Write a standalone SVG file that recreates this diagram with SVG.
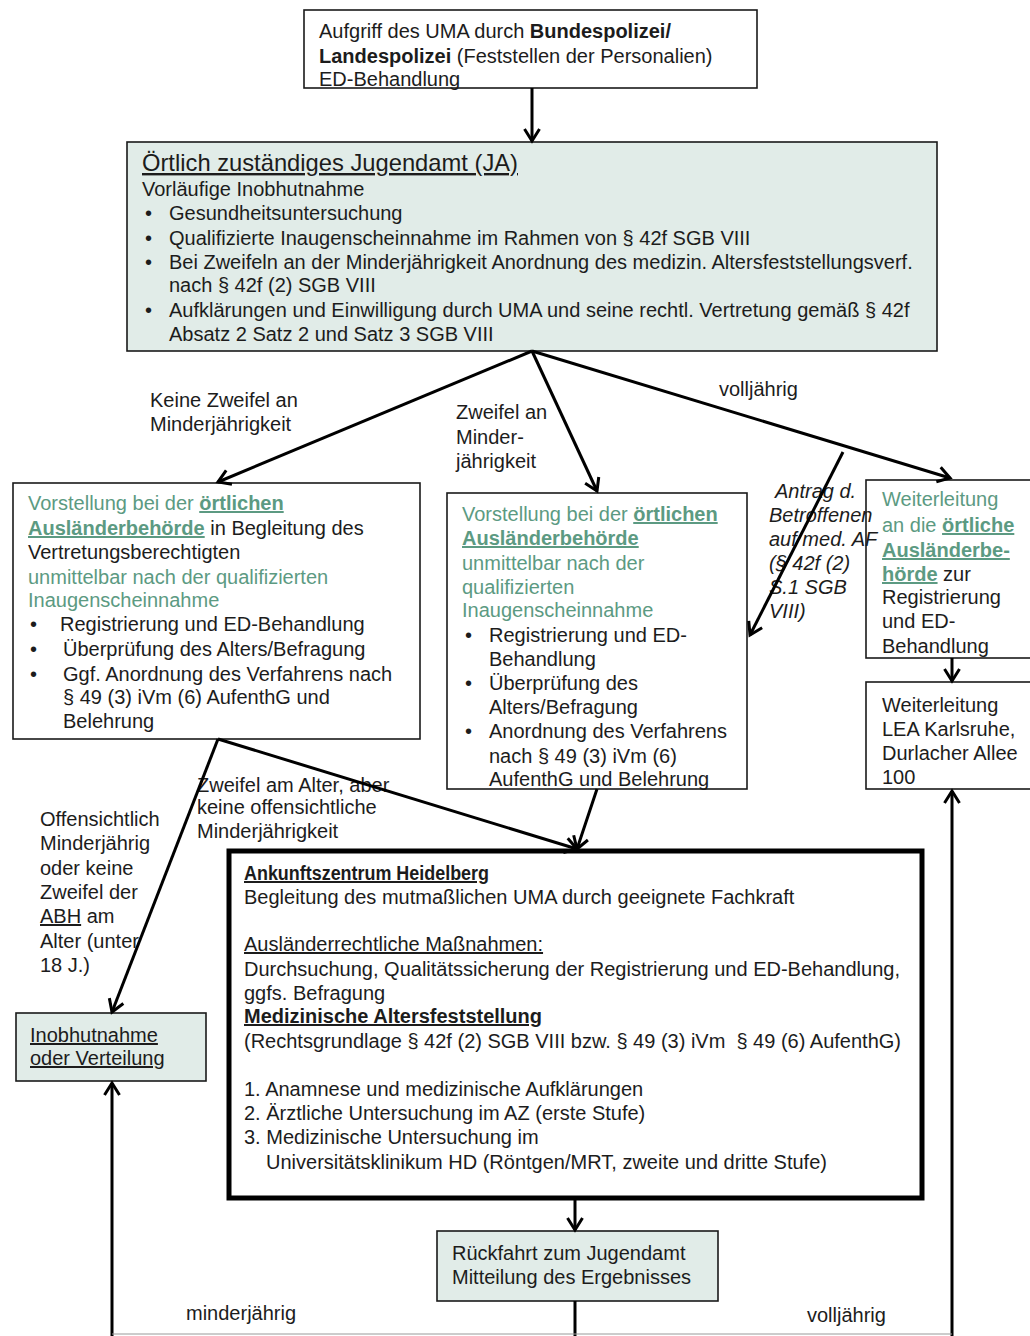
<svg xmlns="http://www.w3.org/2000/svg" width="1030" height="1336" viewBox="0 0 1030 1336">
<style>
text{font-family:"Liberation Sans",Arial,sans-serif;font-size:20px;fill:#1c1c1c}
.b{font-weight:bold}
.u{text-decoration:underline}
.g{fill:#5c9a82}
.gu{fill:#5c9a82;font-weight:bold;text-decoration:underline}
.i{font-style:italic}
.box{fill:#fff;stroke:#1a1a1a;stroke-width:1.6}
.fill{fill:#e1ece8;stroke:#1a1a1a;stroke-width:1.6}
.thick{fill:#fff;stroke:#000;stroke-width:5}
.c{fill:none;stroke:#000;stroke-width:3}
.thin{fill:none;stroke:#999;stroke-width:1}
</style>
<defs>
<marker id="ah" markerWidth="20" markerHeight="20" refX="15" refY="10" orient="auto" markerUnits="userSpaceOnUse">
<path d="M3,2.5 L15,10 L3,17.5" fill="none" stroke="#000" stroke-width="3"/>
</marker>
</defs>

<g id="n-aufgriff">
<rect class="box" x="304" y="10" width="453" height="78"/>
<text x="319" y="38">Aufgriff des UMA durch <tspan class="b">Bundespolizei/</tspan></text>
<text x="319" y="63"><tspan class="b">Landespolizei</tspan> (Feststellen der Personalien)</text>
<text x="319" y="86">ED-Behandlung</text>
</g>

<g id="n-jugendamt">
<rect class="fill" x="127" y="142" width="810" height="209"/>
<text x="142" y="171" class="u" style="font-size:24px" textLength="376" lengthAdjust="spacingAndGlyphs">Örtlich zuständiges Jugendamt (JA)</text>
<text x="142" y="196">Vorläufige Inobhutnahme</text>
<text x="145" y="220">•</text><text x="169" y="220">Gesundheitsuntersuchung</text>
<text x="145" y="245">•</text><text x="169" y="245">Qualifizierte Inaugenscheinnahme im Rahmen von § 42f SGB VIII</text>
<text x="145" y="269">•</text><text x="169" y="269">Bei Zweifeln an der Minderjährigkeit Anordnung des medizin. Altersfeststellungsverf.</text>
<text x="169" y="292">nach § 42f (2) SGB VIII</text>
<text x="145" y="317">•</text><text x="169" y="317">Aufklärungen und Einwilligung durch UMA und seine rechtl. Vertretung gemäß § 42f</text>
<text x="169" y="341">Absatz 2 Satz 2 und Satz 3 SGB VIII</text>
</g>

<g id="l-keine">
<text x="150" y="407">Keine Zweifel an</text>
<text x="150" y="431">Minderjährigkeit</text>
</g>
<g id="l-zweifel">
<text x="456" y="419">Zweifel an</text>
<text x="456" y="444">Minder-</text>
<text x="456" y="468">jährigkeit</text>
</g>
<g id="l-volljaehrig">
<text x="719" y="396">volljährig</text>
</g>

<g id="n-abh-links">
<rect class="box" x="13" y="483" width="407" height="256"/>
<text x="28" y="510"><tspan class="g">Vorstellung bei der </tspan><tspan class="gu">örtlichen</tspan></text>
<text x="28" y="535"><tspan class="gu">Ausländerbehörde</tspan> in Begleitung des</text>
<text x="28" y="559">Vertretungsberechtigten</text>
<text x="28" y="584" class="g">unmittelbar nach der qualifizierten</text>
<text x="28" y="607" class="g">Inaugenscheinnahme</text>
<text x="30" y="631">•</text><text x="60" y="631">Registrierung und ED-Behandlung</text>
<text x="30" y="656">•</text><text x="63" y="656">Überprüfung des Alters/Befragung</text>
<text x="30" y="681">•</text><text x="63" y="681">Ggf. Anordnung des Verfahrens nach</text>
<text x="63" y="704">§ 49 (3) iVm (6) AufenthG und</text>
<text x="63" y="728">Belehrung</text>
</g>

<g id="n-abh-mitte">
<rect class="box" x="447" y="493" width="300" height="296"/>
<text x="462" y="521"><tspan class="g">Vorstellung bei der </tspan><tspan class="gu">örtlichen</tspan></text>
<text x="462" y="545" class="gu">Ausländerbehörde</text>
<text x="462" y="570" class="g">unmittelbar nach der</text>
<text x="462" y="594" class="g">qualifizierten</text>
<text x="462" y="617" class="g">Inaugenscheinnahme</text>
<text x="465" y="642">•</text><text x="489" y="642">Registrierung und ED-</text>
<text x="489" y="666">Behandlung</text>
<text x="465" y="690">•</text><text x="489" y="690">Überprüfung des</text>
<text x="489" y="714">Alters/Befragung</text>
<text x="465" y="738">•</text><text x="489" y="738">Anordnung des Verfahrens</text>
<text x="489" y="763">nach § 49 (3) iVm (6)</text>
<text x="489" y="786">AufenthG und Belehrung</text>
</g>

<g id="n-weiterleitung-abh">
<rect class="box" x="866" y="480" width="170" height="178"/>
<text x="882" y="506" class="g">Weiterleitung</text>
<text x="882" y="532"><tspan class="g">an die </tspan><tspan class="gu">örtliche</tspan></text>
<text x="882" y="557" class="gu">Ausländerbe-</text>
<text x="882" y="581"><tspan class="gu">hörde</tspan> zur</text>
<text x="882" y="604">Registrierung</text>
<text x="882" y="628">und ED-</text>
<text x="882" y="653">Behandlung</text>
</g>

<g id="l-antrag">
<text x="775" y="498" class="i">Antrag d.</text>
<text x="769" y="522" class="i">Betroffenen</text>
<text x="769" y="546" class="i">auf med. AF</text>
<text x="769" y="570" class="i">(§ 42f (2)</text>
<text x="769" y="594" class="i">S.1 SGB</text>
<text x="769" y="618" class="i">VIII)</text>
</g>

<g id="n-lea">
<rect class="box" x="866" y="682" width="170" height="107"/>
<text x="882" y="712">Weiterleitung</text>
<text x="882" y="736">LEA Karlsruhe,</text>
<text x="882" y="760">Durlacher Allee</text>
<text x="882" y="784">100</text>
</g>

<g id="l-zweifel-alter">
<text x="197" y="792">Zweifel am Alter, aber</text>
<text x="197" y="814">keine offensichtliche</text>
<text x="197" y="838">Minderjährigkeit</text>
</g>

<g id="l-offensichtlich">
<text x="40" y="826">Offensichtlich</text>
<text x="40" y="850">Minderjährig</text>
<text x="40" y="875">oder keine</text>
<text x="40" y="899">Zweifel der</text>
<text x="40" y="923"><tspan class="u">ABH</tspan> am</text>
<text x="40" y="948">Alter (unter</text>
<text x="40" y="972">18 J.)</text>
</g>

<g id="n-inobhut">
<rect class="fill" x="16" y="1013" width="190" height="68"/>
<text x="30" y="1042" class="u">Inobhutnahme</text>
<text x="30" y="1065" class="u">oder Verteilung</text>
</g>

<g id="n-ankunftszentrum">
<rect class="thick" x="229" y="851" width="693" height="347"/>
<text x="244" y="880" class="b u" textLength="245" lengthAdjust="spacingAndGlyphs">Ankunftszentrum Heidelberg</text>
<text x="244" y="904">Begleitung des mutmaßlichen UMA durch geeignete Fachkraft</text>
<text x="244" y="951" class="u">Ausländerrechtliche Maßnahmen:</text>
<text x="244" y="976">Durchsuchung, Qualitätssicherung der Registrierung und ED-Behandlung,</text>
<text x="244" y="1000">ggfs. Befragung</text>
<text x="244" y="1023" class="b u" textLength="298" lengthAdjust="spacingAndGlyphs">Medizinische Altersfeststellung</text>
<text x="244" y="1048" xml:space="preserve">(Rechtsgrundlage § 42f (2) SGB VIII bzw. § 49 (3) iVm  § 49 (6) AufenthG)</text>
<text x="244" y="1096">1. Anamnese und medizinische Aufklärungen</text>
<text x="244" y="1120">2. Ärztliche Untersuchung im AZ (erste Stufe)</text>
<text x="244" y="1144">3. Medizinische Untersuchung im</text>
<text x="266" y="1169">Universitätsklinikum HD (Röntgen/MRT, zweite und dritte Stufe)</text>
</g>

<g id="n-rueckfahrt">
<rect class="fill" x="437" y="1231" width="281" height="70"/>
<text x="452" y="1260">Rückfahrt zum Jugendamt</text>
<text x="452" y="1284">Mitteilung des Ergebnisses</text>
</g>

<g id="l-minderjaehrig"><text x="186" y="1320">minderjährig</text></g>
<g id="l-volljaehrig2"><text x="807" y="1322">volljährig</text></g>

<g id="connectors">
<path class="c" d="M532,88 L532,141" marker-end="url(#ah)"/>
<path class="c" d="M532,351 L218,482" marker-end="url(#ah)"/>
<path class="c" d="M532,351 L597,491" marker-end="url(#ah)"/>
<path class="c" d="M532,351 L950,478" marker-end="url(#ah)"/>
<path class="c" d="M843,452 L750,635" marker-end="url(#ah)"/>
<path class="c" d="M952,658 L952,681" marker-end="url(#ah)"/>
<path class="c" d="M218,739 L112,1012" marker-end="url(#ah)"/>
<path class="c" d="M218,739 L577,849" marker-end="url(#ah)"/>
<path class="c" d="M597,789 L577,849" marker-end="url(#ah)"/>
<path class="c" d="M575,1198 L575,1230" marker-end="url(#ah)"/>
<path class="c" d="M575,1301 L575,1336"/>
<path class="c" d="M112,1336 L112,1083" marker-end="url(#ah)"/>
<path class="c" d="M952,1336 L952,791" marker-end="url(#ah)"/>
<path class="thin" d="M112,1334 L952,1334"/>
</g>
</svg>
